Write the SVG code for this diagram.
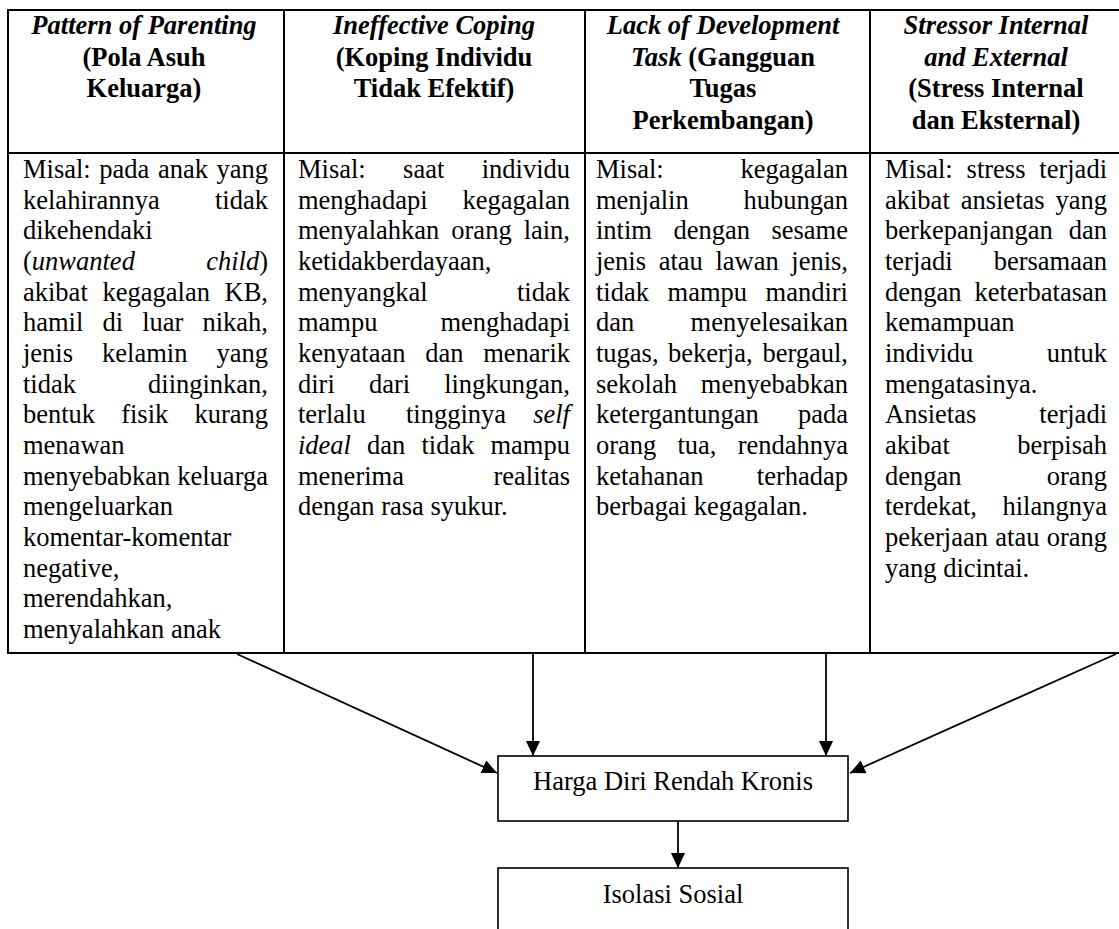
<svg xmlns="http://www.w3.org/2000/svg" width="1119" height="929" viewBox="0 0 1119 929">
<style>
.t{font-family:"Liberation Serif","Times New Roman",serif;font-size:26.5px;fill:#000}
.h{font-weight:bold;text-anchor:middle}
.i{font-style:italic}
.e{text-anchor:end}
.ln{stroke:#000;stroke-width:2;fill:none}
.box{stroke:#000;stroke-width:1.6;fill:#fff}
.ar{stroke:#000;stroke-width:1.8;fill:none}
</style>
<defs>
<marker id="ah" markerUnits="userSpaceOnUse" markerWidth="16" markerHeight="15" refX="15" refY="7" orient="auto">
<path d="M0,0 L15,7 L0,14 Z" fill="#000"/>
</marker>
</defs>
<rect width="1119" height="929" fill="#fff"/>

<g id="table">
<rect class="ln" x="8" y="10" width="1113" height="643"/>
<line class="ln" x1="8" y1="153" x2="1121" y2="153"/>
<line class="ln" x1="284" y1="10" x2="284" y2="653"/>
<line class="ln" x1="585" y1="10" x2="585" y2="653"/>
<line class="ln" x1="870" y1="10" x2="870" y2="653"/>
</g>

<g id="col1" class="t">
<text class="h i" x="144" y="34">Pattern of Parenting</text>
<text class="h" x="144" y="65.5">(Pola Asuh</text>
<text class="h" x="144" y="97">Keluarga)</text>
<text x="23" y="178">Misal:</text><text x="99.3" y="178">pada</text><text x="157.9" y="178">anak</text><text class="e" x="268" y="178">yang</text>
<text x="23" y="208.7">kelahirannya</text><text class="e" x="268" y="208.7">tidak</text>
<text x="23" y="239.3">dikehendaki</text>
<text x="23" y="270">(<tspan class="i">unwanted</tspan></text><text class="e" x="268" y="270"><tspan class="i">child</tspan>)</text>
<text x="23" y="300.6">akibat</text><text x="102.5" y="300.6">kegagalan</text><text class="e" x="268" y="300.6">KB,</text>
<text x="23" y="331.3">hamil</text><text x="102.5" y="331.3">di</text><text x="142.2" y="331.3">luar</text><text class="e" x="268" y="331.3">nikah,</text>
<text x="23" y="361.9">jenis</text><text x="102.1" y="361.9">kelamin</text><text class="e" x="268" y="361.9">yang</text>
<text x="23" y="392.6">tidak</text><text class="e" x="268" y="392.6">diinginkan,</text>
<text x="23" y="423.2">bentuk</text><text x="121.2" y="423.2">fisik</text><text class="e" x="268" y="423.2">kurang</text>
<text x="23" y="453.9">menawan</text>
<text x="23" y="484.5">menyebabkan</text><text class="e" x="268" y="484.5">keluarga</text>
<text x="23" y="515.2">mengeluarkan</text>
<text x="23" y="545.8">komentar-komentar</text>
<text x="23" y="576.5">negative,</text>
<text x="23" y="607.1">merendahkan,</text>
<text x="23" y="637.8">menyalahkan anak</text>
</g>

<g id="col2" class="t">
<text class="h i" x="434" y="34">Ineffective Coping</text>
<text class="h" x="434" y="65.5">(Koping Individu</text>
<text class="h" x="434" y="97">Tidak Efektif)</text>
<text x="298" y="178">Misal:</text><text x="403.1" y="178">saat</text><text class="e" x="570" y="178">individu</text>
<text x="298" y="208.7">menghadapi</text><text class="e" x="570" y="208.7">kegagalan</text>
<text x="298" y="239.3">menyalahkan</text><text x="451.3" y="239.3">orang</text><text class="e" x="570" y="239.3">lain,</text>
<text x="298" y="270">ketidakberdayaan,</text>
<text x="298" y="300.6">menyangkal</text><text class="e" x="570" y="300.6">tidak</text>
<text x="298" y="331.3">mampu</text><text class="e" x="570" y="331.3">menghadapi</text>
<text x="298" y="361.9">kenyataan</text><text x="425.2" y="361.9">dan</text><text class="e" x="570" y="361.9">menarik</text>
<text x="298" y="392.6">diri</text><text x="368.9" y="392.6">dari</text><text class="e" x="570" y="392.6">lingkungan,</text>
<text x="298" y="423.2">terlalu</text><text x="406" y="423.2">tingginya</text><text class="e i" x="570" y="423.2">self</text>
<text class="i" x="298" y="453.9">ideal</text><text x="367.1" y="453.9">dan</text><text x="421.5" y="453.9">tidak</text><text class="e" x="570" y="453.9">mampu</text>
<text x="298" y="484.5">menerima</text><text class="e" x="570" y="484.5">realitas</text>
<text x="298" y="515.2">dengan rasa syukur.</text>
</g>

<g id="col3" class="t">
<text class="h i" x="723" y="34">Lack of Development</text>
<text class="h" x="723" y="65.5"><tspan class="i">Task</tspan> (Gangguan</text>
<text class="h" x="723" y="97">Tugas</text>
<text class="h" x="723" y="128.5">Perkembangan)</text>
<text x="596" y="178">Misal:</text><text class="e" x="848" y="178">kegagalan</text>
<text x="596" y="208.7">menjalin</text><text class="e" x="848" y="208.7">hubungan</text>
<text x="596" y="239.3">intim</text><text x="673.5" y="239.3">dengan</text><text class="e" x="848" y="239.3">sesame</text>
<text x="596" y="270">jenis</text><text x="658.7" y="270">atau</text><text x="715.4" y="270">lawan</text><text class="e" x="848" y="270">jenis,</text>
<text x="596" y="300.6">tidak</text><text x="667.6" y="300.6">mampu</text><text class="e" x="848" y="300.6">mandiri</text>
<text x="596" y="331.3">dan</text><text class="e" x="848" y="331.3">menyelesaikan</text>
<text x="596" y="361.9">tugas,</text><text x="668" y="361.9">bekerja,</text><text class="e" x="848" y="361.9">bergaul,</text>
<text x="596" y="392.6">sekolah</text><text class="e" x="848" y="392.6">menyebabkan</text>
<text x="596" y="423.2">ketergantungan</text><text class="e" x="848" y="423.2">pada</text>
<text x="596" y="453.9">orang</text><text x="677.5" y="453.9">tua,</text><text class="e" x="848" y="453.9">rendahnya</text>
<text x="596" y="484.5">ketahanan</text><text class="e" x="848" y="484.5">terhadap</text>
<text x="596" y="515.2">berbagai kegagalan.</text>
</g>

<g id="col4" class="t">
<text class="h i" x="996" y="34">Stressor Internal</text>
<text class="h i" x="996" y="65.5">and External</text>
<text class="h" x="996" y="97">(Stress Internal</text>
<text class="h" x="996" y="128.5">dan Eksternal)</text>
<text x="885" y="178">Misal:</text><text x="966.6" y="178">stress</text><text class="e" x="1107" y="178">terjadi</text>
<text x="885" y="208.7">akibat</text><text x="960.7" y="208.7">ansietas</text><text class="e" x="1107" y="208.7">yang</text>
<text x="885" y="239.3">berkepanjangan</text><text class="e" x="1107" y="239.3">dan</text>
<text x="885" y="270">terjadi</text><text class="e" x="1107" y="270">bersamaan</text>
<text x="885" y="300.6">dengan</text><text class="e" x="1107" y="300.6">keterbatasan</text>
<text x="885" y="331.3">kemampuan</text>
<text x="885" y="361.9">individu</text><text class="e" x="1107" y="361.9">untuk</text>
<text x="885" y="392.6">mengatasinya.</text>
<text x="885" y="423.2">Ansietas</text><text class="e" x="1107" y="423.2">terjadi</text>
<text x="885" y="453.9">akibat</text><text class="e" x="1107" y="453.9">berpisah</text>
<text x="885" y="484.5">dengan</text><text class="e" x="1107" y="484.5">orang</text>
<text x="885" y="515.2">terdekat,</text><text class="e" x="1107" y="515.2">hilangnya</text>
<text x="885" y="545.8">pekerjaan</text><text x="995.3" y="545.8">atau</text><text class="e" x="1107" y="545.8">orang</text>
<text x="885" y="576.5">yang dicintai.</text>
</g>

<g id="connectors">
<line class="ar" x1="237" y1="654" x2="497" y2="773" marker-end="url(#ah)"/>
<line class="ar" x1="533" y1="654" x2="533" y2="756" marker-end="url(#ah)"/>
<line class="ar" x1="826" y1="654" x2="826" y2="756" marker-end="url(#ah)"/>
<line class="ar" x1="1116" y1="654" x2="850" y2="773" marker-end="url(#ah)"/>
<line class="ar" x1="678" y1="821" x2="678" y2="868" marker-end="url(#ah)"/>
</g>

<g id="harga">
<rect class="box" x="498" y="756" width="350" height="65"/>
<text class="t" x="673" y="790" text-anchor="middle">Harga Diri Rendah Kronis</text>
</g>

<g id="isolasi">
<rect class="box" x="498" y="868" width="350" height="80"/>
<text class="t" x="673" y="903" text-anchor="middle">Isolasi Sosial</text>
</g>
</svg>
